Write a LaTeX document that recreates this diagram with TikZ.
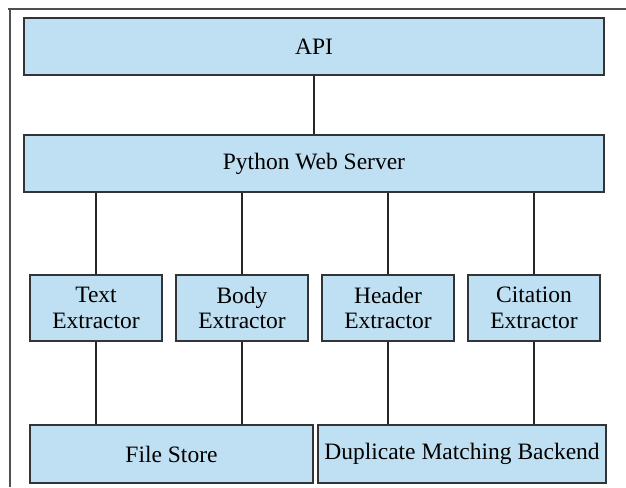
\documentclass[tikz,border=0pt]{standalone}
\usepackage{fontspec}
\setmainfont{Liberation Serif}
\definecolor{boxfill}{RGB}{191,224,242}
\definecolor{boxline}{RGB}{50,52,56}
\definecolor{frameline}{RGB}{80,80,80}
\tikzset{
  blk/.style={draw=boxline, line width=1.8pt, fill=boxfill, inner sep=0pt, align=center, font=\fontsize{23.5}{25.5}\selectfont},
  link/.style={draw=black!85, line width=1.3pt},
}
\begin{document}
\begin{tikzpicture}[x=1pt,y=-1pt]
\useasboundingbox (0,0) rectangle (626,487);
% outer frame lines
\draw[frameline, line width=1.6pt] (8,9) -- (626,9);
\draw[frameline, line width=1.6pt] (10,9) -- (10,487);
% boxes
\node[blk, minimum width=580pt, minimum height=57pt] (api) at (314,46.5) {API};
\node[blk, minimum width=580pt, minimum height=57pt] (srv) at (314,163.5) {Python Web Server};
\node[blk, minimum width=132pt, minimum height=66pt] (te) at (96,308) {Text\\Extractor};
\node[blk, minimum width=132pt, minimum height=66pt] (be) at (242,308) {Body\\Extractor};
\node[blk, minimum width=132pt, minimum height=66pt] (he) at (388,308) {Header\\Extractor};
\node[blk, minimum width=132pt, minimum height=66pt] (ce) at (534,308) {Citation\\Extractor};
\node[blk, minimum width=283pt, minimum height=58pt] (fs) at (171.5,454) {File Store};
\node[blk, minimum width=288pt, minimum height=58pt] (dm) at (462,454) {Duplicate Matching Backend};
% connectors
\draw[link] (api.south) -- (srv.north);
\draw[link] (srv.south -| te.north) -- (te.north);
\draw[link] (srv.south -| be.north) -- (be.north);
\draw[link] (srv.south -| he.north) -- (he.north);
\draw[link] (srv.south -| ce.north) -- (ce.north);
\draw[link] (te.south) -- (te.south |- fs.north);
\draw[link] (be.south) -- (be.south |- fs.north);
\draw[link] (he.south) -- (he.south |- dm.north);
\draw[link] (ce.south) -- (ce.south |- dm.north);
\end{tikzpicture}
\end{document}
